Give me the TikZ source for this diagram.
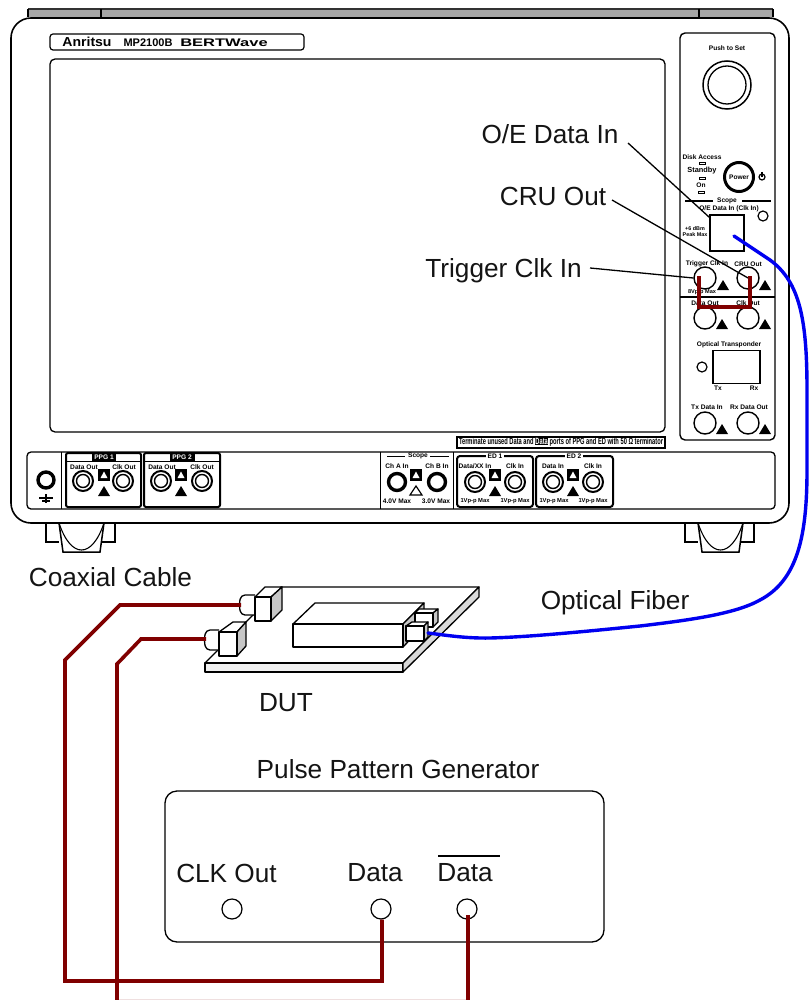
\documentclass[tikz,border=0pt]{standalone}
\usepackage{fontspec}
\setmainfont{Liberation Sans}
\usetikzlibrary{calc}
\definecolor{wire}{HTML}{800000}
\definecolor{fiber}{HTML}{0000F0}
\tikzset{
  big/.style={font=\fontsize{26.2}{28}\selectfont,inner sep=0pt,text=black!92},
  tiny/.style={font=\fontsize{6.6}{6.6}\selectfont\bfseries,inner sep=0pt,align=center},
  port/.style={circle,draw,line width=1.4pt,minimum size=22pt,inner sep=0pt},
  ppgport/.style={circle,draw,line width=1.2pt,minimum size=20pt,inner sep=0pt},
  leader/.style={line width=1.3pt},
  coax/.style={draw=wire,line width=3.6pt,line join=miter},
  fibre/.style={draw=fiber,line width=3.4pt,line cap=round},
  cubeside/.style={fill=black!22,draw=black,line width=1.3pt,line join=round},
  cubeface/.style={fill=white,draw=black,line width=1.3pt,line join=round},
  warn/.pic={\fill (-6,5)--(6,5)--(0,-5)--cycle;},
  warnbox/.pic={\fill[black] (-6,-6) rectangle (6,6);\fill[white] (-3.5,3)--(3.5,3)--(0,-3.5)--cycle;},
  ring/.pic={\draw[line width=2pt] (0,0) circle (10);\draw[line width=1.4pt] (0,0) circle (6.5);},
  fatring/.pic={\draw[line width=3.4pt] (0,0) circle (8.5);},
  foot/.pic={
    \draw[line width=1.3pt] (-33,0)--(-33,19)--(-20,19);
    \draw[line width=1.3pt] (36,0)--(36,19)--(23,19);
    \draw[line width=1.5pt] (-20,0)--(-16,29)--(21,29)--(25,0);
    \draw[line width=1.1pt] (-20,0) .. controls (-8,36) and (13,36) .. (25,0);
  },
}
\begin{document}
\begin{tikzpicture}[x=1pt,y=-1pt]
\useasboundingbox (0,0) rectangle (811,1000);
\fill[white] (0,0) rectangle (811,1000);

% cabinet
\fill[black!35] (28,9) rectangle (773,17);
\draw[line width=1.2pt,black!80] (28,9) -- (773,9);
\draw[line width=1.2pt] (28,9) -- (28,17) (773,9) -- (773,17) (101,9) -- (101,17) (699,9) -- (699,17);
\draw[line width=1.6pt,rounded corners=20pt] (11,200) -- (11,18) -- (789,18) -- (789,523) -- (11,523) -- cycle;
\pic at (79,523) {foot};
\pic at (718,523) {foot};

% title, screen
\node[draw,line width=1.2pt,rounded corners=3pt,minimum width=254pt,minimum height=16pt,inner sep=0pt] (titlebox) at (177,42) {};
\node[inner sep=0pt,font=\fontsize{13}{13}\selectfont\bfseries] (logo) at (87,42) {\scalebox{1.08}[1]{Anritsu}};
\node[inner sep=0pt,font=\fontsize{11}{11}\selectfont\bfseries] (model) at (148,43) {MP2100B};
\node[inner sep=0pt,font=\fontsize{11}{11}\selectfont\bfseries] (bert) at (224,43) {\scalebox{1.5}[1]{BERTWave}};
\draw[line width=1.3pt,rounded corners=5pt] (50,59) rectangle (665,432);
\node[draw,line width=1.2pt,inner sep=0pt,minimum width=208pt,minimum height=11pt,font=\bfseries] (note) at (561,442.5)
  {\resizebox{204pt}{6.6pt}{Terminate unused Data and {\setlength\fboxsep{0.4pt}\colorbox{black}{\textcolor{white}{Data}}} ports of PPG and ED with 50 Ω terminator}};

% right panel
\draw[line width=1.4pt,rounded corners=5pt] (680,33) rectangle (775,440);
\draw[line width=1.2pt] (680,297) -- (775,297);
\node[tiny] (pushset) at (727,48) {Push to Set};
\draw[line width=1.5pt] (727,85) circle (24);
\draw[line width=1.3pt] (727,85) circle (19);
\node[tiny] (disk) at (702,157) {Disk Access};
\draw[line width=.7pt] (699,162) rectangle (705,164);
\node[tiny,font=\fontsize{7.4}{8}\selectfont\bfseries] (standby) at (702,171) {Standby};
\draw[line width=.7pt] (699,177) rectangle (705,179);
\node[tiny] (on) at (701,185) {On};
\draw[line width=.7pt] (698,191) rectangle (704,193);
\node[circle,draw,line width=3pt,minimum size=29pt,inner sep=0pt,font=\fontsize{6.6}{6.6}\selectfont\bfseries] (power) at (739,177) {Power};
\draw[line width=1.2pt] (762,177) circle (3);
\draw[line width=1.2pt] (762,172) -- (762,177);
\node[tiny] (scopehead) at (727,201) {Scope};
\draw[line width=1.4pt] (685,201) -- (713,201) (742,201) -- (771,201);
\node[tiny] (oetext) at (729,209) {O/E Data In (Clk In)};
\draw[line width=1.2pt] (763,216) circle (5);
\node[draw,fill=white,line width=1.2pt,minimum width=34pt,minimum height=36pt,inner sep=0pt] (oeport) at (727,233) {};
\node[tiny,font=\fontsize{5.4}{6}\selectfont\bfseries] (peak) at (695,232) {+6 dBm\\Peak Max};

\node[tiny] (trigtext) at (707,264) {Trigger Clk In};
\node[tiny] (crutext) at (748,264) {CRU Out};
\node[port] (trig) at (705,278) {};
\node[port] (cru) at (748,278) {};
\pic at (723,285) {warn};
\pic at (765,285) {warn};
\node[tiny,font=\fontsize{5.6}{6}\selectfont\bfseries] (maxv) at (702,292) {8Vp-p Max};
\node[tiny] (dotext) at (705,303) {Data Out};
\node[tiny] (cotext) at (748,303) {Clk Out};
\node[port] (dataout) at (705,318) {};
\node[port] (clkout) at (748,318) {};
\pic at (722,324) {warn};
\pic at (765,324) {warn};
\node[tiny] (optrans) at (729,345) {Optical Transponder};
\node[draw,line width=1.2pt,minimum width=47pt,minimum height=33pt,inner sep=0pt] (sfp) at (736.5,367) {};
\draw[line width=1.2pt] (702,367) circle (5);
\node[tiny] (tx) at (718,388) {Tx};
\node[tiny] (rx) at (754,388) {Rx};
\node[tiny] (txin) at (707,407) {Tx Data In};
\node[tiny] (rxout) at (749,407) {Rx Data Out};
\node[port] (txdata) at (705,423) {};
\node[port] (rxdata) at (748,423) {};
\pic at (722,429) {warn};
\pic at (765,429) {warn};

% bottom panel
\draw[line width=1.3pt,rounded corners=4pt] (27,452) rectangle (775,509);
\draw[line width=1pt] (61,452) -- (61,509) (380,452) -- (380,509) (453,452) -- (453,509);
\draw[line width=3.4pt] (46,480) circle (8);
\draw[line width=1.5pt] (46,494) -- (46,503) (39,498) -- (53,498);
\draw[line width=1.5pt] (42,501) -- (50,501);
% PPG 1, 2
\draw[line width=2pt,rounded corners=2pt] (66,453) rectangle (141,507);
\draw[line width=2pt,rounded corners=2pt] (144,453) rectangle (220,507);
\draw[line width=.8pt] (66,461) -- (141,461) (144,461) -- (220,461);
\fill (92,453) rectangle (116,461);
\fill (170,453) rectangle (195,461);
\node[tiny,text=white] (ppga) at (104,457) {PPG 1};
\node[tiny,text=white] (ppgb) at (182,457) {PPG 2};
\node[tiny] (pa1) at (84,467) {Data Out};
\node[tiny] (pa2) at (124,467) {Clk Out};
\node[tiny] (pb1) at (162,467) {Data Out};
\node[tiny] (pb2) at (202,467) {Clk Out};
\pic at (83,481) {ring};
\pic at (123,481) {ring};
\pic at (161,481) {ring};
\pic at (202,481) {ring};
\pic at (104,475) {warnbox};
\pic at (181,475) {warnbox};
\pic at (104,491) {warn};
\pic at (181,491) {warn};
% scope
\node[tiny] (sc) at (418,456) {Scope};
\draw[line width=.9pt] (387,456) -- (405,456) (430,456) -- (449,456);
\node[tiny] (sc1) at (397,466) {Ch A In};
\node[tiny] (sc2) at (437,466) {Ch B In};
\pic at (397,482) {fatring};
\pic at (437,482) {fatring};
\pic at (416,475) {warnbox};
\draw[line width=1.2pt] (410,495) -- (422,495) -- (416,486) -- cycle;
\node[tiny] (sc3) at (397,501) {4.0V Max};
\node[tiny] (sc4) at (436,501) {3.0V Max};
% ED 1, 2
\draw[line width=2pt,rounded corners=3pt] (457,456) rectangle (533,507);
\draw[line width=2pt,rounded corners=3pt] (536,456) rectangle (613,507);
\node[tiny,fill=white,inner xsep=2pt] (eda) at (495,456) {ED 1};
\node[tiny,fill=white,inner xsep=2pt] (edb) at (574,456) {ED 2};
\node[tiny] (ea1) at (475,466) {Data/XX In};
\node[tiny] (ea2) at (515,466) {Clk In};
\node[tiny] (eb1) at (553,466) {Data In};
\node[tiny] (eb2) at (593,466) {Clk In};
\pic at (475,482) {ring};
\pic at (515,482) {ring};
\pic at (553,482) {ring};
\pic at (593,482) {ring};
\pic at (495,475) {warnbox};
\pic at (573,475) {warnbox};
\pic at (495,491) {warn};
\pic at (573,491) {warn};
\node[tiny,font=\fontsize{5.8}{6}\selectfont\bfseries] (ea3) at (475,501) {1Vp-p Max};
\node[tiny,font=\fontsize{5.8}{6}\selectfont\bfseries] (ea4) at (515,501) {1Vp-p Max};
\node[tiny,font=\fontsize{5.8}{6}\selectfont\bfseries] (eb3) at (554,501) {1Vp-p Max};
\node[tiny,font=\fontsize{5.8}{6}\selectfont\bfseries] (eb4) at (593,501) {1Vp-p Max};

% big labels
\node[big] (oelabel) at (550,134.5) {O/E Data In};
\node[big] (crulabel) at (553,196) {CRU Out};
\node[big] (triglabel) at (503.5,271) {Trigger Clk In};
\node[big] (coaxlabel) at (110.5,577) {Coaxial Cable};
\node[big] (fiberlabel) at (615,603) {Optical Fiber};
\node[big] (dutlabel) at (286,703) {DUT};
\node[big] (ppglabel) at (398,769) {Pulse Pattern Generator};

% leaders
\coordinate (oestart) at (628,143);
\coordinate (crustart) at (612,200);
\coordinate (trigstart) at (590,268);
\coordinate (oeend) at ($(oeport.north west)+(0,3)$);
\draw[leader] (oestart) -- (oeend);
\draw[leader] (crustart) -- (cru.center);
\draw[leader] (trigstart) -- (trig.west);

% DUT board
\draw[cubeface] (205,663) -- (281,587) -- (479,587) -- (403,663) -- cycle;
\draw[cubeface,fill=black!6] (205,663) -- (403,663) -- (403,672) -- (205,672) -- cycle;
\draw[cubeside,fill=black!15] (403,663) -- (479,587) -- (479,597) -- (403,672) -- cycle;
% module
\draw[cubeface] (293,624) -- (315,603) -- (424,603) -- (403,624) -- cycle;
\draw[cubeside] (403,624) -- (424,603) -- (424,625) -- (403,647) -- cycle;
\draw[cubeface] (293,624) rectangle (403,647);
% SFP cages
\draw[cubeface] (415,613) -- (419,609) -- (438,609) -- (433,613) -- cycle;
\draw[cubeside] (433,613) -- (438,609) -- (438,622) -- (433,627) -- cycle;
\draw[cubeface] (415,613) rectangle (433,627);
\draw[cubeface] (406,626) -- (412,622) -- (428,622) -- (424,626) -- cycle;
\draw[cubeside] (424,626) -- (428,622) -- (428,637) -- (424,641) -- cycle;
\node[cubeface,minimum width=18pt,minimum height=15pt,inner sep=0pt] (sfpplug) at (415,633.5) {};
% connector plugs
\draw[cubeface,rounded corners=4pt] (255,595) -- (241,595) -- (239,605) -- (241,615) -- (255,615);
\draw[cubeface] (255,597) -- (265,587) -- (282,587) -- (271,597) -- cycle;
\draw[cubeside] (271,597) -- (282,587) -- (282,610) -- (271,621) -- cycle;
\node[cubeface,minimum width=16pt,minimum height=24pt,inner sep=0pt] (plugtop) at (263,609) {};
\draw[cubeface,rounded corners=4pt] (219,630) -- (206,630) -- (204,640) -- (206,650) -- (219,650);
\draw[cubeface] (219,632) -- (233,622) -- (246,622) -- (237,632) -- cycle;
\draw[cubeside] (237,632) -- (246,622) -- (246,646) -- (237,656) -- cycle;
\node[cubeface,minimum width=18pt,minimum height=24pt,inner sep=0pt] (plugbot) at (228,644) {};

% PPG
\draw[line width=1.3pt,rounded corners=12pt] (165,791) rectangle (604,942);
\node[big] (clktext) at (226.5,873) {CLK Out};
\node[big] (datatext) at (375,873) {Data};
\node[big] (nbartext) at (465,873) {Data};
\draw[line width=1.2pt] (438,856) -- (500,856);
\node[ppgport] (clkport) at (232,909) {};
\node[ppgport] (dataport) at (381,909) {};
\node[ppgport] (nbarport) at (467,909) {};

% coax
\coordinate (w1a) at (241,605);
\coordinate (w1b) at (120,605);
\coordinate (w1c) at (65,660);
\coordinate (w1d) at (65,981);
\coordinate (w1e) at (382,981);
\draw[coax] (w1a) -- (w1b) -- (w1c) -- (w1d) -- (w1e) -- (dataport.south -| w1e);
\coordinate (w2a) at (206,639);
\coordinate (w2b) at (141,639);
\coordinate (w2c) at (117,664);
\coordinate (w2d) at (117,1001.6);
\coordinate (w2e) at (468,1001.6);
\coordinate (w2f) at (468,915);
\draw[coax] (w2a) -- (w2b) -- (w2c) -- (w2d) -- (w2e) -- (w2f);
\coordinate (r1) at (699,276);
\coordinate (r2) at (699,307);
\coordinate (r3) at (750,307);
\coordinate (r4) at (750,276);
\draw[coax] (r1) -- (r2) -- (r3) -- (r4);

% fibre
\coordinate (f1) at (734,236);
\coordinate (f2) at (428,633);
\draw[fibre] (f1) -- (770,260) .. controls (800,282) and (807,320) .. (807,390)
  -- (807,470) .. controls (807,535) and (798,580) .. (760,600)
  .. controls (735,614) and (690,620) .. (640,626)
  .. controls (590,631) and (530,637) .. (490,638)
  .. controls (465,638.5) and (445,635) .. (f2);
\end{tikzpicture}
\end{document}
